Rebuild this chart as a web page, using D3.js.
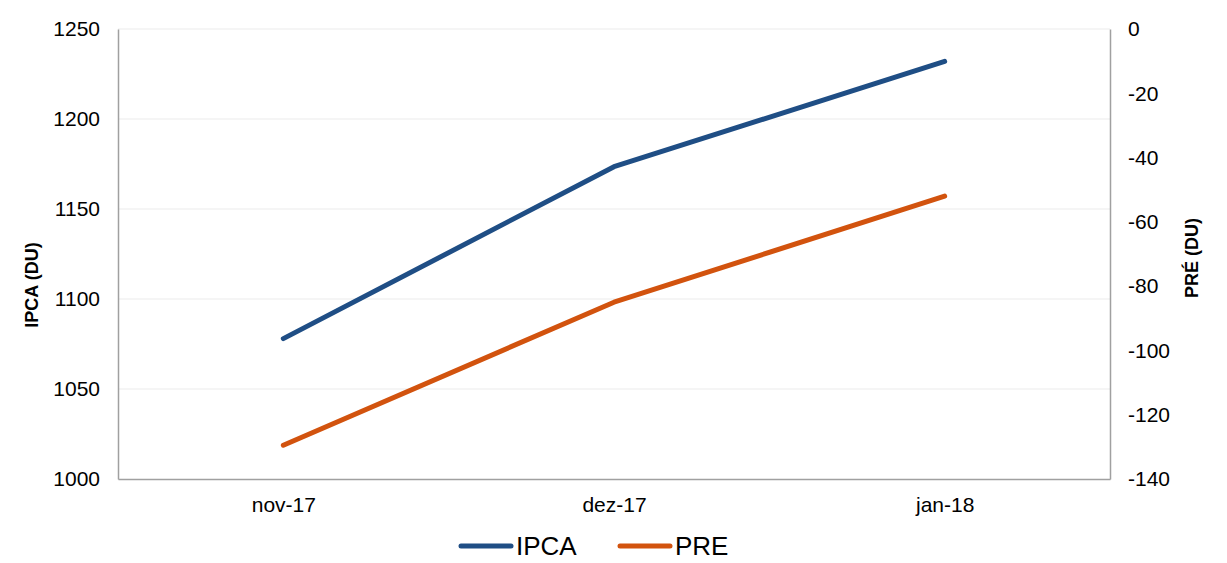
<!DOCTYPE html>
<html>
<head>
<meta charset="utf-8">
<script src="https://cdn.jsdelivr.net/npm/d3@7"></script>
<style>
  body { margin: 0; background: #fff; }
  svg text { font-family: "Liberation Sans", Arial, sans-serif; fill: #000; }
</style>
</head>
<body>
<div id="chart"></div>
<script>
// data
const months = ['nov-17', 'dez-17', 'jan-18'];
const ipca = [1078, 1173.5, 1232];
const pre = [-129.5, -85, -52];
const leftTicks = [1000, 1050, 1100, 1150, 1200, 1250];
const rightTicks = [0, -20, -40, -60, -80, -100, -120, -140];

const width = 1227, height = 563;
const margin = { top: 29, right: 117, bottom: 84, left: 118 };
const innerW = width - margin.left - margin.right;
const innerH = height - margin.top - margin.bottom;

const colorIpca = '#1f4e85';
const colorPre = '#d2530e';

const svg = d3.select('#chart').append('svg')
  .attr('width', width)
  .attr('height', height);

const g = svg.append('g')
  .attr('transform', 'translate(' + margin.left + ',' + margin.top + ')');

const x = d3.scalePoint().domain(months).range([0, innerW]).padding(0.5);
const yL = d3.scaleLinear().domain([1000, 1250]).range([innerH, 0]);
const yR = d3.scaleLinear().domain([-140, 0]).range([innerH, 0]);

/* ---------- gridlines ---------- */
g.append('g').attr('class', 'grid')
  .selectAll('line')
  .data(leftTicks.slice(1))
  .enter().append('line')
  .attr('x1', 0).attr('x2', innerW)
  .attr('y1', d => yL(d)).attr('y2', d => yL(d))
  .style('stroke', '#ebebeb')
  .style('stroke-width', 1.2);

/* ---------- axes ---------- */
const fmt = d => String(d);
const axL = g.append('g')
  .call(d3.axisLeft(yL).tickValues(leftTicks).tickFormat(fmt).tickSize(0).tickPadding(18));
const axR = g.append('g')
  .attr('transform', 'translate(' + innerW + ',0)')
  .call(d3.axisRight(yR).tickValues(rightTicks).tickFormat(fmt).tickSize(0).tickPadding(18));
const axB = g.append('g')
  .attr('transform', 'translate(0,' + innerH + ')')
  .call(d3.axisBottom(x).tickSize(0).tickPadding(18));

[axL, axR, axB].forEach(ax => {
  ax.select('.domain').style('stroke', '#a0a0a0').style('stroke-width', 1.5);
  ax.selectAll('text').style('font-size', '21px').style('fill', '#000');
});

/* ---------- axis titles ---------- */
svg.append('text')
  .attr('transform', 'translate(38,285) rotate(-90)')
  .style('text-anchor', 'middle')
  .style('font-size', '18px')
  .style('font-weight', 'bold')
  .text('IPCA (DU)');

svg.append('text')
  .attr('transform', 'translate(1198,258) rotate(-90)')
  .style('text-anchor', 'middle')
  .style('font-size', '18px')
  .style('font-weight', 'bold')
  .text('PRÉ (DU)');

/* ---------- lines ---------- */
const lineL = d3.line().x((d, i) => x(months[i])).y(d => yL(d));
const lineR = d3.line().x((d, i) => x(months[i])).y(d => yR(d));

g.append('path')
  .datum(ipca)
  .attr('d', lineL)
  .style('fill', 'none')
  .style('stroke', colorIpca)
  .style('stroke-width', 5)
  .style('stroke-linecap', 'round')
  .style('stroke-linejoin', 'round');

g.append('path')
  .datum(pre)
  .attr('d', lineR)
  .style('fill', 'none')
  .style('stroke', colorPre)
  .style('stroke-width', 5)
  .style('stroke-linecap', 'round')
  .style('stroke-linejoin', 'round');

/* ---------- legend ---------- */
const legend = svg.append('g').attr('transform', 'translate(0,546)');
const items = [
  { name: 'IPCA', color: colorIpca, x: 461 },
  { name: 'PRE', color: colorPre, x: 620 }
];
items.forEach(it => {
  legend.append('line')
    .attr('x1', it.x).attr('x2', it.x + 50)
    .attr('y1', 0).attr('y2', 0)
    .style('stroke', it.color)
    .style('stroke-width', 5)
    .style('stroke-linecap', 'round');
  legend.append('text')
    .attr('x', it.x + 55)
    .attr('y', 0)
    .attr('dy', '0.36em')
    .style('font-size', '26px')
    .text(it.name);
});
</script>
</body>
</html>
